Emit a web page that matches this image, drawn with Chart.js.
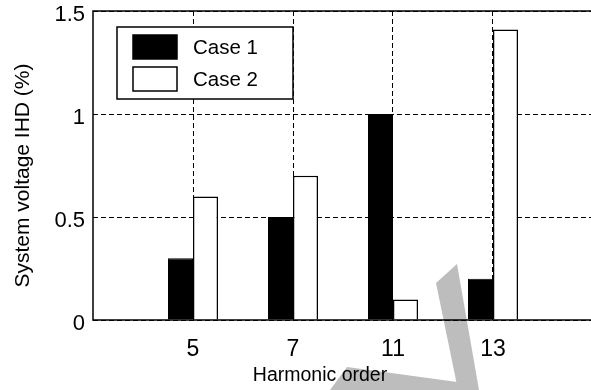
<!DOCTYPE html>
<html>
<head>
<meta charset="utf-8">
<script src="https://cdn.jsdelivr.net/npm/chart.js@4/dist/chart.umd.min.js"></script>
<style>
html,body{margin:0;padding:0;background:#fff;}
#wrap{width:591px;height:390px;}
</style>
</head>
<body>
<div id="wrap"><canvas id="c" width="591" height="390"></canvas></div>
<script>
const categories = ['5', '7', '11', '13'];
const case1 = [0.3, 0.5, 1.0, 0.2];
const case2 = [0.6, 0.7, 0.1, 1.41];
const yTicks = [0, 0.5, 1, 1.5];
const seriesNames = ['Case 1', 'Case 2'];
const xTitle = 'Harmonic order';
const yTitle = 'System voltage IHD (%)';

const FONT = '"Liberation Sans", Arial, sans-serif';

const watermark = {
  id: 'watermark',
  beforeDraw(chart) {
    const ctx = chart.ctx;
    ctx.save();
    ctx.fillStyle = '#ffffff';
    ctx.fillRect(0, 0, chart.width, chart.height);
    ctx.fillStyle = '#bdbdbd';
    ctx.beginPath();
    ctx.moveTo(436, 283); ctx.lineTo(457, 264); ctx.lineTo(479, 390); ctx.lineTo(458, 390);
    ctx.closePath(); ctx.fill();
    ctx.beginPath();
    ctx.moveTo(330, 390); ctx.lineTo(347, 367); ctx.lineTo(472, 384); ctx.lineTo(472, 390);
    ctx.closePath(); ctx.fill();
    ctx.restore();
  }
};

const frame = {
  id: 'frame',
  afterDatasetsDraw(chart) {
    const {left, right, top, bottom} = chart.chartArea;
    const ctx = chart.ctx;
    ctx.save();
    ctx.strokeStyle = '#000';
    ctx.lineWidth = 1.5;
    ctx.setLineDash([]);
    ctx.beginPath();
    ctx.moveTo(right + 2, top); ctx.lineTo(left, top); ctx.lineTo(left, bottom); ctx.lineTo(right + 2, bottom);
    ctx.stroke();
    ctx.fillStyle = '#000';
    // x axis title
    ctx.font = '19.5px ' + FONT;
    ctx.textAlign = 'center';
    ctx.textBaseline = 'middle';
    ctx.fillText(xTitle, left + 227, bottom + 56);
    // y axis title
    ctx.font = '21px ' + FONT;
    ctx.translate(23, (top + bottom) / 2 + 10);
    ctx.rotate(-Math.PI / 2);
    ctx.fillText(yTitle, 0, 0);
    ctx.restore();
  }
};

const boxLegend = {
  id: 'boxLegend',
  afterDraw(chart) {
    const {left, top} = chart.chartArea;
    const ctx = chart.ctx;
    const x = left + 24, y = top + 16, w = 176, h = 72;
    ctx.save();
    ctx.setLineDash([]);
    ctx.fillStyle = '#fff';
    ctx.fillRect(x, y, w, h);
    ctx.strokeStyle = '#000';
    ctx.lineWidth = 1.5;
    ctx.strokeRect(x, y, w, h);
    chart.data.datasets.forEach((ds, i) => {
      const sy = y + 8 + i * 32;
      ctx.fillStyle = ds.backgroundColor;
      ctx.fillRect(x + 16, sy, 44, 24);
      ctx.strokeStyle = '#000';
      ctx.lineWidth = 1.5;
      ctx.strokeRect(x + 16, sy, 44, 24);
      ctx.fillStyle = '#000';
      ctx.font = '20.5px ' + FONT;
      ctx.textBaseline = 'middle';
      ctx.textAlign = 'left';
      ctx.fillText(ds.label, x + 76, sy + 13);
    });
    ctx.restore();
  }
};

const toPoints = arr => arr.map((v, i) => ({x: i + 1, y: v}));

new Chart(document.getElementById('c'), {
  type: 'bar',
  data: {
    datasets: [
      {label: seriesNames[0], data: toPoints(case1), backgroundColor: '#000000', borderColor: '#000000', borderWidth: 1,
       categoryPercentage: 0.5, barPercentage: 1.0},
      {label: seriesNames[1], data: toPoints(case2), backgroundColor: '#ffffff', borderColor: '#000000', borderWidth: 1.5,
       categoryPercentage: 0.5, barPercentage: 1.0}
    ]
  },
  options: {
    responsive: false,
    animation: false,
    layout: {padding: {top: 11, right: 0, bottom: 0, left: 0}},
    plugins: {legend: {display: false}, tooltip: {enabled: false}},
    scales: {
      x: {
        type: 'linear',
        min: 0,
        max: 4.98,
        offset: false,
        afterBuildTicks(scale) { scale.ticks = categories.map((c, i) => ({value: i + 1})); },
        afterFit(scale) { scale.height = 70; scale.paddingLeft = 0; scale.paddingRight = 0; },
        ticks: {
          callback: (v) => categories[v - 1] ?? '',
          color: '#000',
          font: {family: FONT, size: 23},
          padding: 16,
          maxRotation: 0,
          autoSkip: false
        },
        grid: {color: '#000', lineWidth: 1, drawTicks: false, offset: false},
        border: {display: false, dash: [5, 3]},
        title: {display: false}
      },
      y: {
        type: 'linear',
        min: 0,
        max: 1.5,
        afterBuildTicks(scale) { scale.ticks = yTicks.map(v => ({value: v})); },
        afterFit(scale) { scale.width = 93; scale.paddingTop = 0; scale.paddingBottom = 0; },
        ticks: {
          callback: (v) => String(v),
          color: '#000',
          font: {family: FONT, size: 22, lineHeight: 1.0},
          padding: 8,
          labelOffset: 4
        },
        grid: {color: '#000', lineWidth: 1, drawTicks: false},
        border: {display: false, dash: [5, 3]},
        title: {display: false}
      }
    }
  },
  plugins: [watermark, frame, boxLegend]
});
</script>
</body>
</html>
